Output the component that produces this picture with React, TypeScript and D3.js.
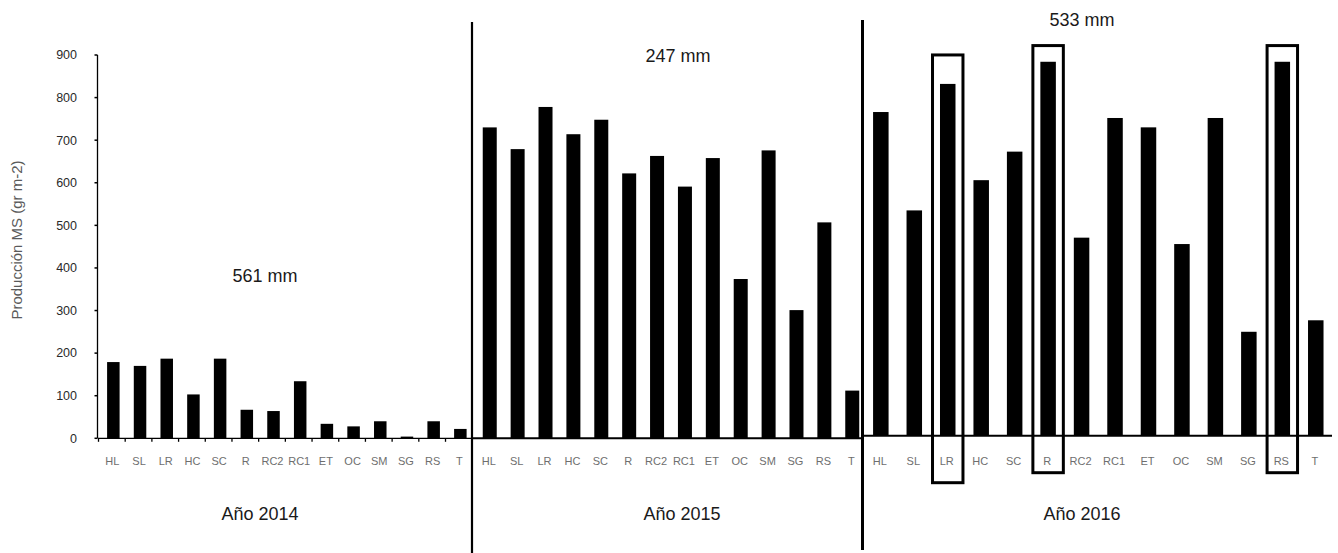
import React from 'react';
import * as d3 from 'd3';

const categories = ["HL", "SL", "LR", "HC", "SC", "R", "RC2", "RC1", "ET", "OC", "SM", "SG", "RS", "T"];
const values2014 = [179, 170, 187, 103, 187, 67, 64, 134, 34, 28, 40, 4, 40, 22];
const values2015 = [730, 679, 778, 714, 748, 622, 663, 591, 658, 374, 676, 301, 507, 112];
const values2016 = [760, 529, 826, 600, 667, 878, 465, 746, 724, 450, 746, 244, 878, 271];
const yTicks = [0, 100, 200, 300, 400, 500, 600, 700, 800, 900];
const yearLabels = ["Año 2014", "Año 2015", "Año 2016"];
const rainLabels = ["561 mm", "247 mm", "533 mm"];
const highlighted = ["LR", "R", "RS"];
const highlightTop = [894, 916, 916];

const W = 1338;
const H = 553;
const FONT = "'Liberation Sans', Arial, sans-serif";
const NARROW = "'Liberation Sans Narrow', 'Liberation Sans', Arial, sans-serif";

const layout = [
  { range: [100, 473.7], shift: 0, barW: 12.5, axis: [98, 472], ticks: true, rain: [265, 282], yearX: 260 },
  { range: [475.8, 866.2], shift: 0, barW: 14, axis: [472, 862], ticks: false, rain: [678, 62], yearX: 682 },
  { range: [864.1, 1332.5], shift: -2.6, barW: 15.5, axis: [862, 1332], ticks: false, rain: [1082, 26], yearX: 1082 },
];
const highlightBottomPad = [47, 37, 37];

export default function App() {
  const y = d3.scaleLinear().domain([0, 900]).range([438.3, 55]);
  const series = [values2014, values2015, values2016];

  return (
    <svg width={W} height={H} style={{ position: 'absolute', left: 0, top: 0, background: '#fff' }}>
      <rect width={W} height={H} fill="#fff" />
      {/* y axis */}
      <line x1={97.5} x2={97.5} y1={y(0)} y2={y(900)} stroke="#000" strokeWidth={1.3} />
      {yTicks.map(t => (
        <g key={t}>
          <line x1={94.5} x2={97.5} y1={y(t)} y2={y(t)} stroke="#000" strokeWidth={1.5} />
          <text x={77} y={y(t)} dy="0.35em" textAnchor="end" fontFamily={FONT} fontSize={12.5} fill="#2a2a2a">{t}</text>
        </g>
      ))}
      <text transform={`translate(22,${240}) rotate(-90)`} textAnchor="middle" fontFamily={NARROW} fontSize={15} fill="#5a5a5a">Producción MS (gr m-2)</text>

      {layout.map((L, pi) => {
        const x = d3.scaleBand().domain(categories).range(L.range as [number, number]).padding(0);
        const base = y(0) + L.shift;
        const vals = series[pi];
        return (
          <g key={pi}>
            {categories.map((c, i) => (
              <rect key={c} x={x(c)! + x.bandwidth() / 2 - L.barW / 2} y={y(vals[i]) + L.shift}
                width={L.barW} height={base - (y(vals[i]) + L.shift)} fill="#000" />
            ))}
            <line x1={L.axis[0]} x2={L.axis[1]} y1={base} y2={base} stroke="#000" strokeWidth={pi === 0 ? 1.3 : 2} />
            {L.ticks && categories.map((c, i) => (
              <line key={c} x1={L.range[0] - 1.5 + i * x.step()} x2={L.range[0] - 1.5 + i * x.step()} y1={base} y2={base + 3.5} stroke="#000" strokeWidth={1.3} />
            ))}
            {categories.map(c => (
              <text key={c} x={x(c)! + x.bandwidth() / 2 - 1} y={465} textAnchor="middle" fontFamily={NARROW} fontSize={11} fill="#6e6e6e">{c}</text>
            ))}
            <text x={L.rain[0]} y={L.rain[1]} textAnchor="middle" fontFamily={NARROW} fontSize={18} fill="#1a1a1a">{rainLabels[pi]}</text>
            <text x={L.yearX} y={520} textAnchor="middle" fontFamily={NARROW} fontSize={18} fill="#1a1a1a">{yearLabels[pi]}</text>
            {pi === 2 && highlighted.map((c, k) => (
              <rect key={c} x={x(c)! + 1.5} width={x.step() - 3}
                y={y(highlightTop[k]) + L.shift} height={base + highlightBottomPad[k] - (y(highlightTop[k]) + L.shift)}
                fill="none" stroke="#000" strokeWidth={3} />
            ))}
          </g>
        );
      })}

      {/* panel dividers */}
      <line x1={472} x2={472} y1={22} y2={553} stroke="#000" strokeWidth={2.2} />
      <line x1={862.5} x2={862.5} y1={20} y2={550} stroke="#000" strokeWidth={3} />
    </svg>
  );
}
